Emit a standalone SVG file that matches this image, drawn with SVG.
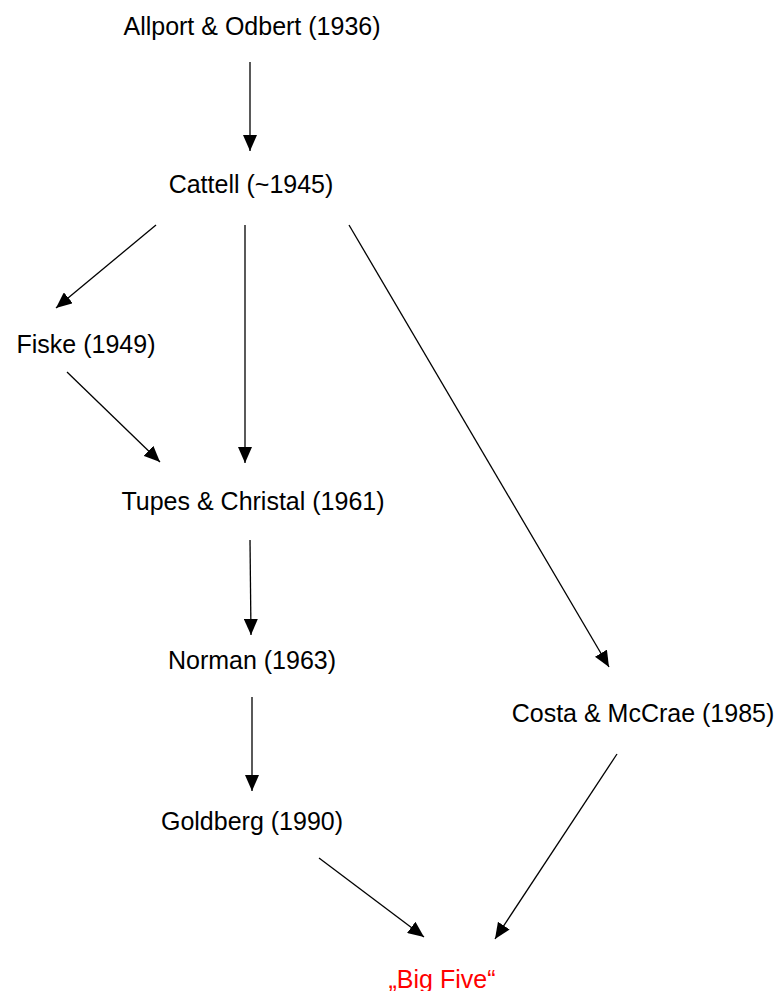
<svg xmlns="http://www.w3.org/2000/svg" width="777" height="991" viewBox="0 0 777 991">
  <style>
    .lbl { font-family: "Liberation Sans", Arial, sans-serif; font-size: 25px; fill: #000; text-anchor: middle; }
    .red { fill: #ff0000; }
    .edge { stroke: #000; stroke-width: 1.3; fill: none; marker-end: url(#arrow); }
  </style>
  <defs>
    <marker id="arrow" viewBox="0 0 16 14" refX="16" refY="7" markerWidth="16" markerHeight="14" markerUnits="userSpaceOnUse" orient="auto">
      <path d="M0,0 L16,7 L0,14 Z" fill="#000"/>
    </marker>
  </defs>
  <rect width="777" height="991" fill="#fff"/>

  <g id="connectors">
    <line class="edge" x1="250" y1="62" x2="250" y2="151"/>
    <line class="edge" x1="156" y1="225" x2="56" y2="308"/>
    <line class="edge" x1="245" y1="225" x2="245" y2="463"/>
    <line class="edge" x1="349" y1="225" x2="609" y2="667"/>
    <line class="edge" x1="67" y1="372" x2="160" y2="462"/>
    <line class="edge" x1="250" y1="540" x2="251" y2="635"/>
    <line class="edge" x1="252" y1="697" x2="252" y2="791"/>
    <line class="edge" x1="319" y1="858" x2="424" y2="937"/>
    <line class="edge" x1="617" y1="754" x2="495" y2="939"/>
  </g>

  <g id="allport"><text class="lbl" x="252" y="35">Allport &amp; Odbert (1936)</text></g>
  <g id="cattell"><text class="lbl" x="251" y="193">Cattell (~1945)</text></g>
  <g id="fiske"><text class="lbl" x="86" y="353">Fiske (1949)</text></g>
  <g id="tupes"><text class="lbl" x="253" y="510">Tupes &amp; Christal (1961)</text></g>
  <g id="norman"><text class="lbl" x="252" y="669">Norman (1963)</text></g>
  <g id="costa"><text class="lbl" x="643" y="722">Costa &amp; McCrae (1985)</text></g>
  <g id="goldberg"><text class="lbl" x="252" y="830">Goldberg (1990)</text></g>
  <g id="bigfive"><text class="lbl red" x="442" y="988">„Big Five“</text></g>
</svg>
